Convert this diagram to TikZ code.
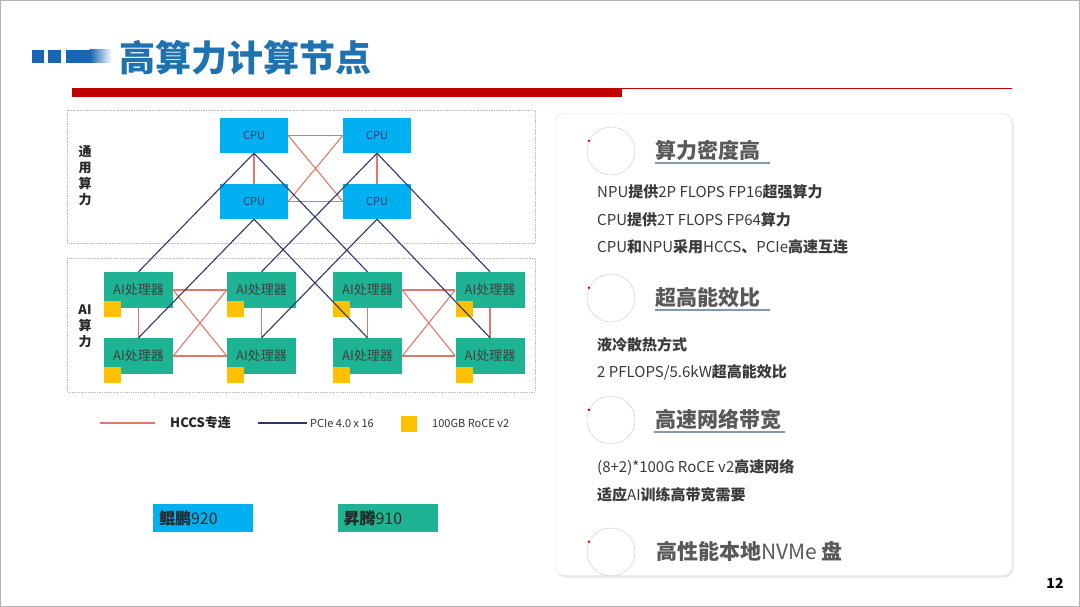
\documentclass[tikz,border=0pt]{standalone}
\usepackage{fontspec}
\setmainfont{Noto Sans CJK SC}
\usetikzlibrary{shadows}
\definecolor{cpublue}{HTML}{00B0F0}
\definecolor{aigreen}{HTML}{1DB393}
\definecolor{ryellow}{HTML}{FFC000}
\definecolor{hccs}{HTML}{E0786A}
\definecolor{pcie}{HTML}{2E3A66}
\definecolor{titleblue}{HTML}{1E72B0}
\definecolor{sqblue}{HTML}{1866B4}
\definecolor{barred}{HTML}{C00000}
\definecolor{headgray}{HTML}{595959}
\definecolor{bodytext}{HTML}{3A3A3A}
\definecolor{ulblue}{HTML}{8497B0}
\newcommand\zb[1]{\textbf{#1}}
\begin{document}
\begin{tikzpicture}[x=1pt,y=-1pt,
  cpubox/.style={fill=cpublue, minimum width=68pt, minimum height=35pt, inner sep=0pt, text=pcie, font=\fontsize{11}{12}\selectfont},
  aibox/.style={fill=aigreen, minimum width=69pt, minimum height=36pt, inner sep=0pt, text=black!75, font=\fontsize{13}{14}\selectfont},
  nic/.style={fill=ryellow, minimum width=17pt, minimum height=16pt, inner sep=0pt, anchor=south west},
  hccsline/.style={draw=hccs, line width=1.1pt},
  pcieline/.style={draw=pcie, line width=1.1pt},
  grp/.style={draw=gray!55, densely dotted, line width=0.8pt},
  sidelabel/.style={font=\fontsize{13}{16}\selectfont\bfseries, text=black!85, align=center, inner sep=0pt},
  chip/.style={minimum height=28pt, inner xsep=6pt, text width=88pt, align=left, text=black!85, font=\fontsize{16}{18}\selectfont},
  ring/.style={circle, draw=gray!35, line width=0.5pt, minimum size=48pt, inner sep=0pt},
  heading/.style={anchor=west, inner sep=0pt, text=headgray, font=\fontsize{21}{24}\selectfont\bfseries},
  body/.style={anchor=west, inner sep=0pt, text=bodytext, font=\fontsize{15}{17}\selectfont},
  uline/.style={draw=ulblue, line width=1.6pt}
]
\useasboundingbox (0,0) rectangle (1080,607);
\fill[white] (0,0) rectangle (1080,607);
\draw[gray!60, line width=1pt] (0.5,0.5) rectangle (1079.5,606.5);

% title
\fill[sqblue] (32,50) rectangle (44,63);
\fill[sqblue] (48,50) rectangle (61,63);
\fill[sqblue] (66,50) rectangle (90,63);
\shade[left color=sqblue, right color=white] (90,50) rectangle (112,63);
\node[anchor=west, inner sep=0pt, text=titleblue, font=\fontsize{36}{40}\selectfont\bfseries] (title) at (119,58) {高算力计算节点};
\fill[barred] (72,88) rectangle (622,97);
\draw[barred, line width=0.9pt] (622,88.5) -- (1012,88.5);

% group boxes
\draw[grp] (67,110) rectangle (535,243);
\draw[grp] (67,258) rectangle (535,392);
\node[sidelabel] (lblgen) at (85,176) {通\\用\\算\\力};
\node[sidelabel] (lblai) at (85,326) {AI\\算\\力};

% CPUs
\node[cpubox] (T1) at (254,135.5) {CPU};
\node[cpubox] (T2) at (377,135.5) {CPU};
\node[cpubox] (B1) at (254,201.5) {CPU};
\node[cpubox] (B2) at (377,201.5) {CPU};

% AI processors
\foreach \n/\x/\y in {A1/138.5/290, A2/261.5/290, A3/367.5/290, A4/490/290,
                      A5/138.5/356, A6/261.5/356, A7/367.5/356, A8/490/356}{
  \node[aibox] (\n) at (\x,\y) {AI处理器};
  \node[nic] (\n nic) at ([yshift=-9pt]\n.south west) {};
}

% HCCS among CPUs
\draw[hccsline] (T1.east) -- (T2.west);
\draw[hccsline] (B1.east) -- (B2.west);
\draw[hccsline] (T1.east) -- (B2.west);
\draw[hccsline] (B1.east) -- (T2.west);
\draw[hccsline] (T1.south) -- (B1.north);
\draw[hccsline] (T2.south) -- (B2.north);

% HCCS among AI processors
\foreach \a/\b/\c/\d in {A1/A2/A5/A6, A3/A4/A7/A8}{
  \draw[hccsline] (\a.east) -- (\b.west);
  \draw[hccsline] (\c.east) -- (\d.west);
  \draw[hccsline] (\a.east) -- (\d.west);
  \draw[hccsline] (\c.east) -- (\b.west);
  \draw[hccsline] (\a.south) -- (\c.north);
  \draw[hccsline] (\b.south) -- (\d.north);
}

% PCIe
\draw[pcieline] (T1.south) -- (A1.north);
\draw[pcieline] (T1.south) -- (A3.north);
\draw[pcieline] (B1.south) -- (A5.north);
\draw[pcieline] (B1.south) -- (A7.north);
\draw[pcieline] (T2.south) -- (A2.north);
\draw[pcieline] (T2.south) -- (A4.north);
\draw[pcieline] (B2.south) -- (A6.north);
\draw[pcieline] (B2.south) -- (A8.north);

% legend
\draw[hccsline] (100,423) -- (155,423);
\node[anchor=west, inner sep=0pt, text=black!85, font=\fontsize{13}{14}\selectfont\bfseries] (lg1) at (170,423) {HCCS专连};
\draw[pcieline] (258,423) -- (307,423);
\node[anchor=west, inner sep=0pt, text=black!80, font=\fontsize{11}{12}\selectfont] (lg2) at (310,423) {PCIe 4.0 x 16};
\node[fill=ryellow, minimum width=16pt, minimum height=16pt, inner sep=0pt] (lgsq) at (409,424) {};
\node[anchor=west, inner sep=0pt, text=black!80, font=\fontsize{11}{12}\selectfont] (lg3) at (432,423) {100GB RoCE v2};

% chips
\node[chip, fill=cpublue] (kp) at (203,518) {\zb{鲲鹏}920};
\node[chip, fill=aigreen] (st) at (387.5,518) {\zb{昇腾}910};

% right panel
\node[draw=gray!25, fill=white, rounded corners=9pt, minimum width=457pt, minimum height=462pt, inner sep=0pt,
      drop shadow={shadow xshift=1.5pt, shadow yshift=-2pt, opacity=0.18}] (panel) at (783.5,344.5) {};

\foreach \n/\y in {r1/151, r2/298, r3/420, r4/552}{
  \node[ring] (\n) at (611,\y) {};
  \fill[red!80!black] (\n.155) circle (1.3pt);
}
\node[heading] (h1) at (655,150) {算力密度高};
\draw[uline] (655,163) -- (770,163);
\node[body] (b1) at (597,192) {NPU\zb{提供}2P FLOPS FP16\zb{超强算力}};
\node[body] (b2) at (597,220) {CPU\zb{提供}2T FLOPS FP64\zb{算力}};
\node[body] (b3) at (597,247) {CPU\zb{和}NPU\zb{采用}HCCS\zb{、}PCIe\zb{高速互连}};

\node[heading] (h2) at (655,297) {超高能效比};
\draw[uline] (655,310) -- (770,310);
\node[body] (b4) at (597,345) {\zb{液冷散热方式}};
\node[body] (b5) at (597,372) {2 PFLOPS/5.6kW\zb{超高能效比}};

\node[heading] (h3) at (655,419) {高速网络带宽};
\draw[uline] (654,432) -- (785,432);
\node[body] (b6) at (597,467) {(8+2)*100G RoCE v2\zb{高速网络}};
\node[body] (b7) at (597,495) {\zb{适应}AI\zb{训练高带宽需要}};

\node[heading] (h4) at (656,551) {高性能本地\mdseries NVMe \bfseries 盘};

\node[anchor=center, inner sep=0pt, text=black, font=\fontsize{14}{16}\selectfont\bfseries] (pg) at (1055,583) {12};
\end{tikzpicture}
\end{document}
